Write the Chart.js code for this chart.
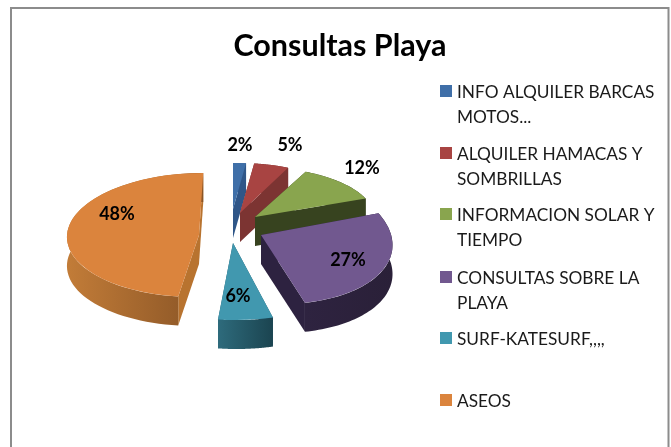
<!DOCTYPE html>
<html>
<head>
<meta charset="utf-8">
<style>
html,body{margin:0;padding:0;background:#fff;overflow:hidden}
#wrap{position:relative;width:671px;height:447px}
canvas{position:absolute;left:0;top:0}
</style>
<script src="https://cdn.jsdelivr.net/npm/chart.js@4/dist/chart.umd.min.js"></script>
</head>
<body>
<div id="wrap"><canvas id="c" width="671" height="447"></canvas></div>
<script>
const categories = [
  ["INFO ALQUILER BARCAS","MOTOS..."],
  ["ALQUILER HAMACAS Y","SOMBRILLAS"],
  ["INFORMACION SOLAR Y","TIEMPO"],
  ["CONSULTAS SOBRE LA","PLAYA"],
  ["SURF-KATESURF,,,,"],
  ["ASEOS"]
];
const percents = [2,5,12,27,6,48];
const titleText = "Consultas Playa";

const topColors  = ["#3f6fa8","#a84442","#89a54e","#71588f","#4198af","#db843d"];
const faceColors = ["#2f5688","#7c3432","#37431f","#2d2240","#24586a","#b8732f"];
const wallFrom   = ["#2f5688","#7c3432","#37431f","#2e2340","#2e6b7c","#c27c38"];
const wallTo     = ["#2f5688","#7c3432","#37431f","#2a2038","#1b4450","#8a5526"];

// where each exploded, tilted wedge lands on the page
const apexX  = [233,240,255,261,233,199];
const apexY  = [209,213,217,235,243,235];
const radX   = [104,113,119,131,147,132];
const radY   = [46,50,50,69,77,62];
const shear  = [0,0,0,0.17,0.045,-0.0685];
const tilt   = [0,0,0,0.03,0,0];
const depth  = 29;
const drawOrder = [0,1,2,5,4,3];

const labelX = [240,290,362,348,238,117];
const labelY = [145,145,168,260,296,214];

const legendX = 440, legendBox = 12, legendText = 457, legendGap = 25;
const legendY = [91,153,214,277,338,400];

const FONT = "Lato, Carlito, Calibri, sans-serif";

function place(el,i){
  const R = el.outerRadius, cx = el.x, cy = el.y;
  const a = radX[i]/R, d = radY[i]/R, c = shear[i]*d, b = tilt[i]*a;
  return {a,b,c,d,e:apexX[i]-a*cx-c*cy,f:apexY[i]-b*cx-d*cy};
}
function walls(ctx,el,i){
  const m = place(el,i);
  const pt = (x,y)=>[m.a*x+m.c*y+m.e, m.b*x+m.d*y+m.f];
  const rim = t=>pt(el.x+Math.cos(t)*el.outerRadius, el.y+Math.sin(t)*el.outerRadius);
  const A = pt(el.x,el.y), S = rim(el.startAngle), E = rim(el.endAngle);
  const quad=(p,q)=>{
    ctx.beginPath();
    ctx.moveTo(p[0],p[1]);ctx.lineTo(q[0],q[1]);
    ctx.lineTo(q[0],q[1]+depth);ctx.lineTo(p[0],p[1]+depth);
    ctx.closePath();ctx.fillStyle=faceColors[i];ctx.fill();
  };
  quad(A,S);quad(A,E);
  const steps = 60, pts=[];
  for(let k=0;k<=steps;k++) pts.push(rim(el.startAngle+(el.endAngle-el.startAngle)*k/steps));
  const xs = pts.map(p=>p[0]);
  const g = ctx.createLinearGradient(Math.min(...xs),0,Math.max(...xs),0);
  g.addColorStop(0,wallFrom[i]);g.addColorStop(1,wallTo[i]);
  ctx.beginPath();
  pts.forEach((p,k)=>k?ctx.lineTo(p[0],p[1]):ctx.moveTo(p[0],p[1]));
  for(let k=steps;k>=0;k--) ctx.lineTo(pts[k][0],pts[k][1]+depth);
  ctx.closePath();ctx.fillStyle=g;ctx.fill();
}

const pie3d = {
  id:'pie3d',
  beforeDatasetDraw(chart){
    const ctx = chart.ctx, arcs = chart.getDatasetMeta(0).data;
    drawOrder.forEach(i=>{
      const el = arcs[i];
      ctx.save();
      walls(ctx,el,i);
      const m = place(el,i);
      ctx.transform(m.a,m.b,m.c,m.d,m.e,m.f);
      el.draw(ctx,chart.chartArea);
      ctx.restore();
    });
    return false;
  },
  afterDraw(chart){
    const ctx = chart.ctx;
    ctx.save();
    // frame, open at the bottom of the page
    ctx.strokeStyle="#8c8c8c";ctx.lineWidth=2;
    ctx.beginPath();ctx.moveTo(11,447);ctx.lineTo(11,8);ctx.lineTo(668.5,8);ctx.lineTo(668.5,447);ctx.stroke();
    // percent labels
    ctx.fillStyle="#000";ctx.textAlign="center";ctx.textBaseline="middle";
    ctx.font="bold 18px "+FONT;
    percents.forEach((v,i)=>ctx.fillText(v+"%",labelX[i],labelY[i]));
    // legend
    ctx.textAlign="left";ctx.font="17.3px "+FONT;
    categories.forEach((lines,i)=>{
      ctx.fillStyle=topColors[i];
      ctx.fillRect(legendX,legendY[i]-legendBox/2,legendBox,legendBox);
      ctx.fillStyle="#1a1a1a";
      lines.forEach((t,k)=>ctx.fillText(t,legendText,legendY[i]+1+k*legendGap));
    });
    ctx.restore();
  }
};

new Chart(document.getElementById('c'),{
  type:'pie',
  data:{
    labels:categories.map(l=>l.join(' ')),
    datasets:[{data:percents,backgroundColor:topColors,borderWidth:0,hoverOffset:0}]
  },
  options:{
    responsive:false,
    animation:false,
    layout:{padding:{left:9,top:26,right:0,bottom:0}},
    plugins:{
      legend:{display:false},
      tooltip:{enabled:false},
      title:{display:true,text:titleText,color:"#000",font:{family:FONT,size:30.5,weight:'bold'},padding:{top:2,bottom:10}}
    }
  },
  plugins:[pie3d]
});
</script>
</body>
</html>
